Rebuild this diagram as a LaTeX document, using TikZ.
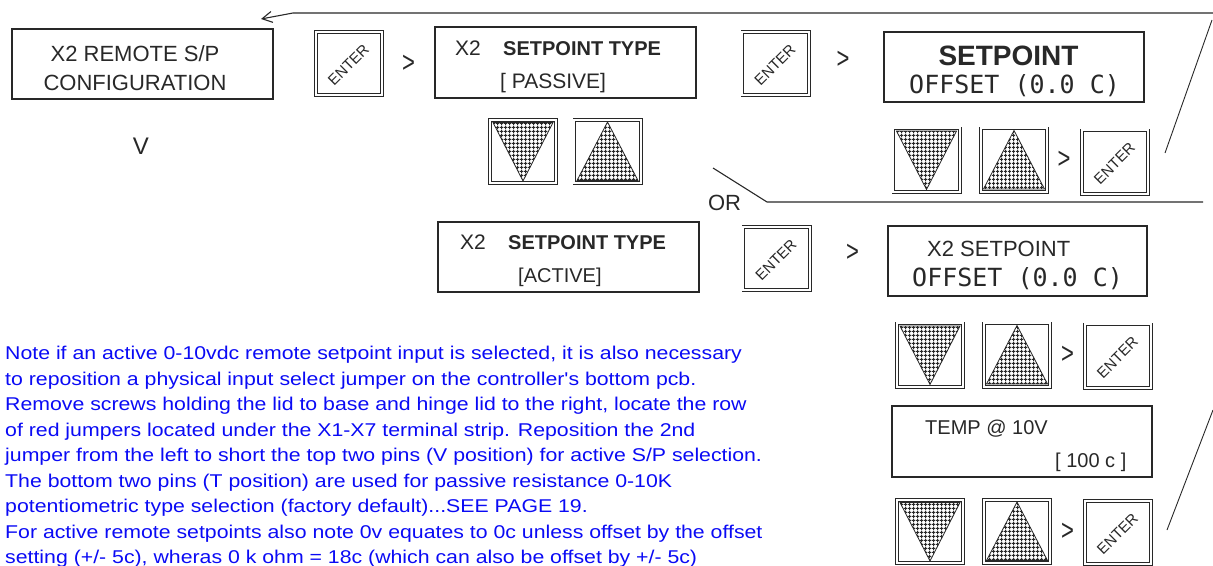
\documentclass[tikz,border=0pt]{standalone}
\usepackage{fontspec}
\setmainfont{Liberation Sans}
\newfontfamily\lcdfont{DejaVu Sans Mono}
\newfontfamily\notefont[FakeStretch=1.15]{Liberation Sans}
\usetikzlibrary{calc,patterns.meta,arrows.meta}
\definecolor{ink}{RGB}{40,40,40}
\definecolor{noteblue}{RGB}{10,10,245}
\tikzdeclarepattern{
  name=keygrid,
  type=uncolored,
  tile size={(4pt,4pt)},
  bounding box={(0pt,0pt) and (4pt,4pt)},
  code={
    \fill (0pt,1.35pt) rectangle (4pt,2.65pt);
    \fill (1.35pt,0pt) rectangle (2.65pt,4pt);
  }
}
\tikzset{
  box/.style={draw=ink, line width=1.2pt, inner sep=0pt},
  keybox/.style={draw=ink, double, double distance=2pt, line width=0.8pt,
    minimum width=66.4pt, minimum height=63.4pt, inner sep=0pt},
  tri/.style={draw=ink, line width=0.8pt, pattern={keygrid}, pattern color=ink},
  entertext/.style={text=ink, inner sep=0pt, font=\fontsize{15}{15}\selectfont},
  lbl/.style={text=ink, inner sep=0pt, anchor=base west},
  clbl/.style={text=ink, inner sep=0pt, anchor=base},
  chev/.style={text=ink, inner sep=0pt, anchor=base, yscale=1.35, font=\fontsize{22}{22}\selectfont},
  wire/.style={draw=ink, line width=1.1pt},
  thinwire/.style={draw=ink, line width=0.9pt},
}
\newcommand\downkey[2]{%
  \node[keybox] (#1) at (#2) {};
  \draw[tri] ($(#1)+(-30,-29)$) -- ($(#1)+(30,-29)$) -- ($(#1)+(0,29.5)$) -- cycle;}
\newcommand\upkey[2]{%
  \node[keybox] (#1) at (#2) {};
  \draw[tri] ($(#1)+(0,-29.5)$) -- ($(#1)+(30.5,29)$) -- ($(#1)+(-30.5,29)$) -- cycle;}
\newcommand\enterkey[2]{%
  \node[keybox] (#1) at (#2) {};
  \node[entertext, rotate=45] (#1t) at ($(#1)+(-0.5,1.5)$) {ENTER};}
\begin{document}
\begin{tikzpicture}[x=1pt,y=-1pt]
\useasboundingbox (0,0) rectangle (1213,565);

% boxes
\node[box, minimum width=261pt, minimum height=70pt] (B1) at (142.5,64) {};
\node[clbl, font=\fontsize{22}{22}\selectfont] (B1a) at (135,61) {X2 REMOTE S/P};
\node[clbl, font=\fontsize{22}{22}\selectfont] (B1b) at (135,90) {CONFIGURATION};
\node[clbl, font=\fontsize{24}{24}\selectfont] (V1) at (141,154) {V};

\node[box, minimum width=261pt, minimum height=71pt] (B2) at (565.5,62.5) {};
\node[lbl, font=\fontsize{21}{21}\selectfont] (B2a) at (455,55.5) {X2};
\node[lbl, font=\fontsize{20}{20}\selectfont\bfseries] (B2b) at (503,55.5) {SETPOINT TYPE};
\node[lbl, font=\fontsize{21}{21}\selectfont] (B2c) at (500,88) {[ PASSIVE]};

\node[box, minimum width=260pt, minimum height=70pt] (B3) at (1014,67) {};
\node[clbl, font=\fontsize{28}{28}\selectfont\bfseries] (B3a) at (1008.5,65) {SETPOINT};
\node[lbl, font=\fontsize{25}{25}\lcdfont] (B3b) at (909,93) {OFFSET (0.0 C)};

\node[box, minimum width=261pt, minimum height=70pt] (B4) at (568.5,257) {};
\node[lbl, font=\fontsize{21}{21}\selectfont] (B4a) at (460,249.5) {X2};
\node[lbl, font=\fontsize{20}{20}\selectfont\bfseries] (B4b) at (508,249.5) {SETPOINT TYPE};
\node[lbl, font=\fontsize{20}{20}\selectfont] (B4c) at (518,282) {[ACTIVE]};

\node[box, minimum width=259pt, minimum height=70pt] (B5) at (1017.5,261) {};
\node[lbl, font=\fontsize{22}{22}\selectfont] (B5a) at (927,256) {X2 SETPOINT};
\node[lbl, font=\fontsize{25}{25}\lcdfont] (B5b) at (912,286) {OFFSET (0.0 C)};

\node[box, minimum width=260pt, minimum height=71pt] (B6) at (1022,441.5) {};
\node[lbl, font=\fontsize{20}{20}\selectfont] (B6a) at (925,434) {TEMP @ 10V};
\node[lbl, font=\fontsize{20}{20}\selectfont] (B6b) at (1055,467) {[ 100 c ]};

% keys
\enterkey{E1}{349,63.5}
\enterkey{E2}{775.5,63.5}
\downkey{D1}{523,151.5}
\upkey{U1}{607.5,151.5}
\downkey{D2}{926.5,160}
\upkey{U2}{1014,160}
\enterkey{E3}{1115,162}
\enterkey{E4}{776.5,258.5}
\downkey{D3}{930,355}
\upkey{U3}{1017,355}
\enterkey{E5}{1118,356}
\downkey{D4}{930,531.5}
\upkey{U4}{1017,531.5}
\enterkey{E6}{1118,532.5}

% chevrons
\node[chev] (g1) at (408.5,72) {>};
\node[chev] (g2) at (843,68.5) {>};
\node[chev] (g3) at (1064,168.5) {>};
\node[chev] (g4) at (852.5,261) {>};
\node[chev] (g5) at (1067.5,363) {>};
\node[chev] (g6) at (1067.5,540.5) {>};

% OR
\node[clbl, font=\fontsize{22}{22}\selectfont] (or) at (724.5,210) {OR};

% connectors
\coordinate (r1) at (1165,153);
\coordinate (r2) at (1212,20);
\coordinate (t1) at (1213,13);
\coordinate (t2) at (293,13);
\coordinate (t3) at (261,19);
\draw[thinwire] (r1) -- (r2);
\draw[wire, -{Straight Barb[length=10pt,width=11pt]}] (t1) -- (t2) -- (t3);

\coordinate (o1) at (713,168);
\coordinate (o2) at (767,202);
\coordinate (o3) at (1203,202);
\draw[wire] (o1) -- (o2) -- (o3);

\coordinate (q1) at (1167,530);
\coordinate (q2) at (1213,410);
\draw[thinwire] (q1) -- (q2);

% note
\node[anchor=base west, inner sep=0pt, text=noteblue, font=\fontsize{18.5}{25.5}\notefont] (note) at (5,359.7) {\vtop{\baselineskip=25.5pt
\hbox{Note if an active 0-10vdc remote setpoint input is selected, it is also necessary}
\hbox{to reposition a physical input select jumper on the controller's bottom pcb.}
\hbox{Remove screws holding the lid to base and hinge lid to the right, locate the row}
\hbox{of red jumpers located under the X1-X7 terminal strip. Reposition the 2nd}
\hbox{jumper from the left to short the top two pins (V position) for active S/P selection.}
\hbox{The bottom two pins (T position) are used for passive resistance 0-10K}
\hbox{potentiometric type selection (factory default)...SEE PAGE 19.}
\hbox{For active remote setpoints also note 0v equates to 0c unless offset by the offset}
\hbox{setting (+/- 5c), wheras 0 k ohm = 18c (which can also be offset by +/- 5c)}}};
\end{tikzpicture}
\end{document}
